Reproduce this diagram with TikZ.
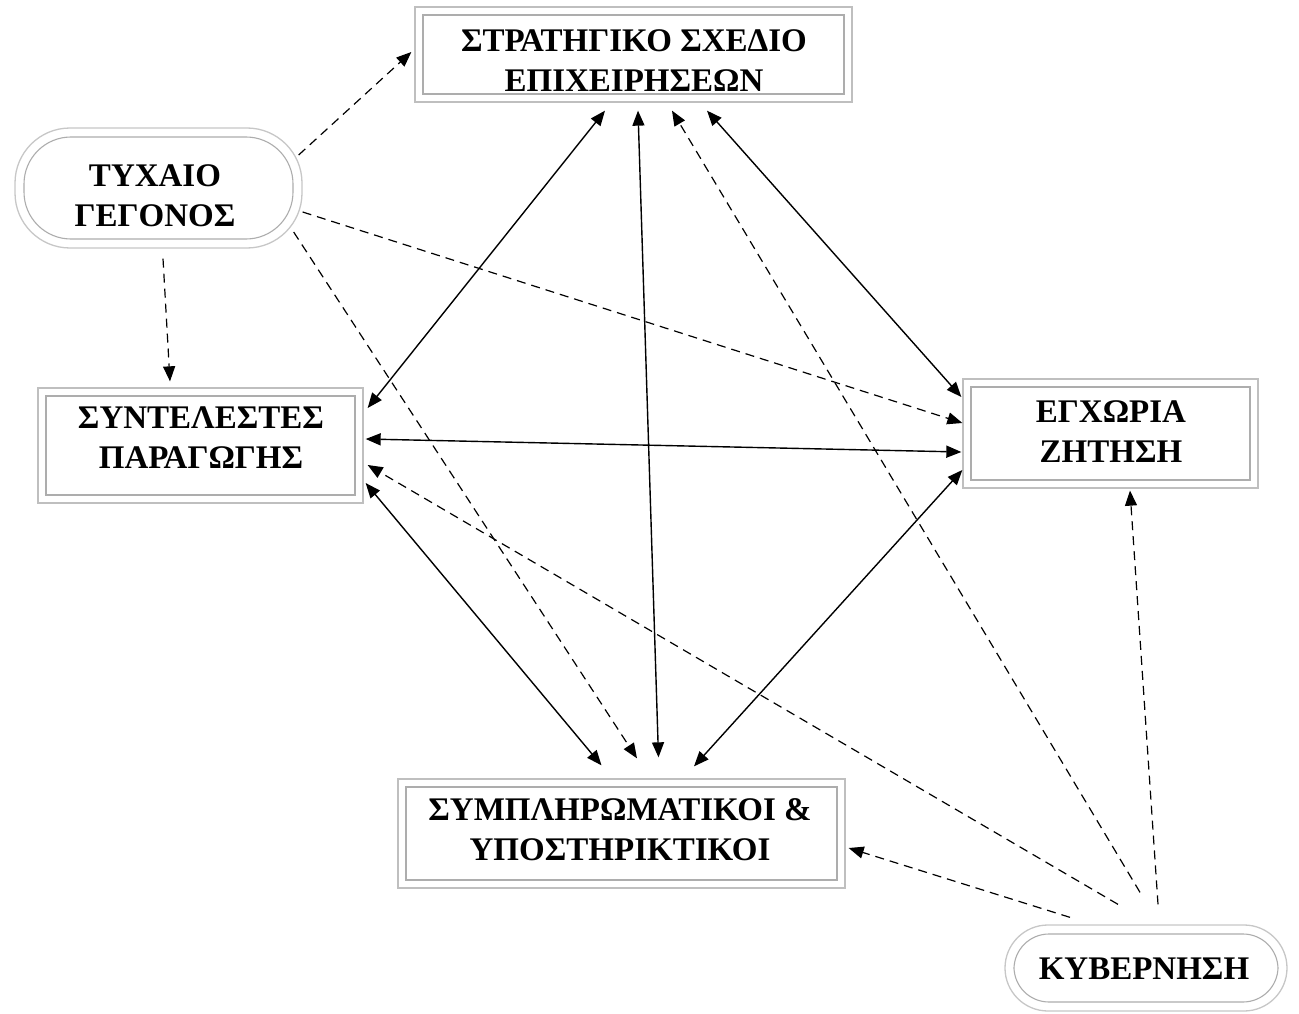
\documentclass[tikz,border=0pt]{standalone}
\usepackage{fontspec}
\setmainfont{Liberation Serif}
\usetikzlibrary{arrows.meta,calc}
\tikzset{
  boxouter/.style={draw=black!25, line width=1.3pt, fill=white, inner sep=0pt, rectangle,
    path picture={\draw[black!32, line width=1.1pt]
      ([shift={(8pt,8pt)}]path picture bounding box.south west) rectangle
      ([shift={(-8pt,-8pt)}]path picture bounding box.north east);}},
  roundouter/.style={draw=black!22, line width=1.3pt, fill=white, inner sep=0pt, rectangle, rounded corners=#1,
    path picture={\draw[black!32, line width=1.1pt, rounded corners=#1-8pt]
      ([shift={(9pt,9pt)}]path picture bounding box.south west) rectangle
      ([shift={(-9pt,-9pt)}]path picture bounding box.north east);}},
  lbl/.style={font=\bfseries\fontsize{33}{40}\selectfont, align=center, inner sep=0pt, text=black},
  solidarr/.style={line width=1.4pt, {Triangle[length=15pt,width=12pt]}-{Triangle[length=15pt,width=12pt]}},
  dasharr/.style={line width=1.2pt, dash pattern=on 9pt off 6pt, -{Triangle[length=15pt,width=12pt]}},
}
\begin{document}
\begin{tikzpicture}[x=1pt,y=-1pt]
\useasboundingbox (0,0) rectangle (1299,1014);
% boxes
\node[boxouter, minimum width=437pt, minimum height=95pt] (strat) at (633.5,54.5) {};
\node[roundouter=55pt, minimum width=287pt, minimum height=120pt] (tyx) at (158.5,188) {};
\node[boxouter, minimum width=325pt, minimum height=115pt] (synt) at (200.5,445.5) {};
\node[boxouter, minimum width=295pt, minimum height=109pt] (egx) at (1110.5,433.5) {};
\node[boxouter, minimum width=447pt, minimum height=109pt] (symp) at (621.5,833.5) {};
\node[roundouter=43pt, minimum width=282pt, minimum height=86pt] (kyv) at (1146,968) {};
% labels
\node[lbl] (stratT) at (634,60.5) {ΣΤΡΑΤΗΓΙΚΟ ΣΧΕΔΙΟ\\ΕΠΙΧΕΙΡΗΣΕΩΝ};
\node[lbl] (tyxT) at (155,196) {ΤΥΧΑΙΟ\\ΓΕΓΟΝΟΣ};
\node[lbl] (syntT) at (201,438) {ΣΥΝΤΕΛΕΣΤΕΣ\\ΠΑΡΑΓΩΓΗΣ};
\node[lbl] (egxT) at (1111,432) {ΕΓΧΩΡΙΑ\\ΖΗΤΗΣΗ};
\node[lbl] (sympT) at (620,830) {ΣΥΜΠΛΗΡΩΜΑΤΙΚΟΙ \&\\ΥΠΟΣΤΗΡΙΚΤΙΚΟΙ};
\node[lbl] (kyvT) at (1144,969) {ΚΥΒΕΡΝΗΣΗ};
% solid double arrows
\draw[solidarr] ($(strat.south)+(-28.5,8)$) -- ($(synt.east)+(4,-37.5)$);
\draw[solidarr] ($(strat.south)+(4.5,8)$) -- ($(symp.north)+(37,-21)$);
\draw[solidarr] ($(strat.south)+(73.5,8)$) -- ($(egx.west)+(-1,-36.5)$);
\draw[solidarr] ($(synt.east)+(2,-6.5)$) -- ($(egx.west)+(-1,18.5)$);
\draw[solidarr] ($(synt.east)+(2,37.5)$) -- ($(symp.north)+(-20,-13)$);
\draw[solidarr] ($(egx.west)+(0,36.5)$) -- ($(symp.north)+(72.5,-12)$);
% dashed arrows
\draw[dasharr] ($(tyx.east)+(-4,-33)$) -- ($(strat.west)+(-3,-2.5)$);
\draw[dasharr] ($(tyx.east)+(0,24)$) -- ($(egx.west)+(0,-10.5)$);
\draw[dasharr] ($(tyx.east)+(-9,44)$) -- ($(symp.north)+(15.5,-20)$);
\draw[dasharr] ($(tyx.south)+(4.5,10)$) -- ($(synt.north)+(-30.5,-6)$);
\draw[dasharr] ($(kyv.north)+(-6,-32)$) -- ($(strat.south)+(38.5,8)$);
\draw[dasharr] ($(kyv.north)+(-28,-20)$) -- ($(synt.east)+(4,19.5)$);
\draw[dasharr] ($(kyv.north)+(12,-20)$) -- ($(egx.south)+(19.5,2)$);
\draw[dasharr] ($(kyv.north)+(-76,-7)$) -- ($(symp.east)+(3,14.5)$);
\end{tikzpicture}
\end{document}
